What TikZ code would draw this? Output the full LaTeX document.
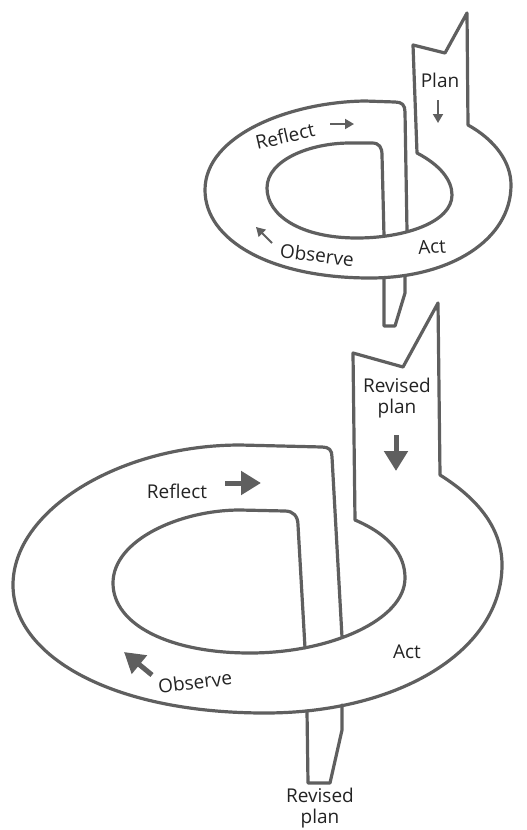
\documentclass[tikz,border=0pt]{standalone}
\usepackage{fontspec}
\setmainfont{Open Sans}
\usetikzlibrary{arrows.meta}
\definecolor{bandgray}{RGB}{95,95,95}
\definecolor{textgray}{RGB}{35,35,35}
\tikzset{
  band/.style={draw=bandgray,line width=3.2pt,line join=round,line cap=round},
  lbl/.style={text=textgray,font=\fontsize{19}{21}\selectfont,inner sep=0pt,align=center},
  thinarrow/.style={draw=bandgray,line width=1.8pt,-{Triangle[length=9pt,width=10pt]}},
  thickarrow/.style={draw=bandgray,line width=5pt,-{Triangle[length=20pt,width=23pt]}}
}

\begin{document}
\begin{tikzpicture}[x=1pt,y=-1pt]
    \useasboundingbox (0,0) rectangle (527,830);

    % first cycle
    \draw[band] (384,236) -- (382,155) .. controls (382,147) and (379,143) .. (372,143) -- (350,143)
        .. controls (310,143) and (267,160) .. (267,188) .. controls (267,215) and (300,238) .. (357,238)
        .. controls (405,238) and (452,222) .. (452,195) .. controls (452,180) and (440,165) .. (417,153)
        -- (413,45) -- (445,53) -- (467,13) -- (468,125)
        .. controls (495,140) and (511,162) .. (511,185) .. controls (511,240) and (450,278) .. (370,278)
        .. controls (270,278) and (205,240) .. (205,190) .. controls (205,135) and (290,102) .. (365,101)
        -- (395,102) .. controls (402,102) and (405,105) .. (405,112) -- (407,231);
    \draw[band] (384,278) -- (384,326) -- (395,326) -- (405,293) -- (405,276);

    \node[lbl] (plan) at (440,80) {Plan};
    \node[lbl,rotate=13] (reflectA) at (285,136) {Reflect};
    \node[lbl,rotate=4] (actA) at (432,247) {Act};
    \node[lbl,rotate=-7] (observeA) at (317,255) {Observe};

    \coordinate (planS) at (438,100);
    \coordinate (planE) at (438,123);
    \coordinate (reflectAS) at (330,124);
    \coordinate (reflectAE) at (354,124);
    \coordinate (observeAS) at (272,243);
    \coordinate (observeAE) at (256,227);
    \draw[thinarrow] (planS) -- (planE);
    \draw[thinarrow] (reflectAS) -- (reflectAE);
    \draw[thinarrow] (observeAS) -- (observeAE);

    % second cycle
    \draw[band] (305,648) -- (298,525) .. controls (298,516) and (293,511) .. (285,511) -- (240,510)
        .. controls (180,510) and (113,540) .. (113,583) .. controls (113,625) and (170,653) .. (250,653)
        .. controls (330,653) and (405,620) .. (405,578) .. controls (405,555) and (390,535) .. (355,520)
        -- (353,353) -- (403,367) -- (438,303) -- (440,475)
        .. controls (480,500) and (502,530) .. (502,565) .. controls (502,650) and (400,713) .. (265,713)
        .. controls (110,713) and (13,655) .. (13,585) .. controls (13,510) and (120,445) .. (240,445)
        -- (322,447) .. controls (329,447) and (332,450) .. (332,457) -- (342,637);
    \draw[band] (307,711) -- (308,783) -- (330,783) -- (342,730) -- (342,705);

    \node[lbl] (revplan) at (397,398) {Revised\\plan};
    \node[lbl] (reflectB) at (177,491) {Reflect};
    \node[lbl] (actB) at (407,652) {Act};
    \node[lbl,rotate=7] (observeB) at (195,682) {Observe};
    \node[lbl] (revplanout) at (320,808) {Revised\\plan};

    \coordinate (revS) at (396,435);
    \coordinate (revE) at (396,471);
    \coordinate (reflectBS) at (225,483);
    \coordinate (reflectBE) at (261,483);
    \coordinate (observeBS) at (152,675);
    \coordinate (observeBE) at (124,652);
    \draw[thickarrow] (revS) -- (revE);
    \draw[thickarrow] (reflectBS) -- (reflectBE);
    \draw[thickarrow] (observeBS) -- (observeBE);
\end{tikzpicture}
\end{document}
